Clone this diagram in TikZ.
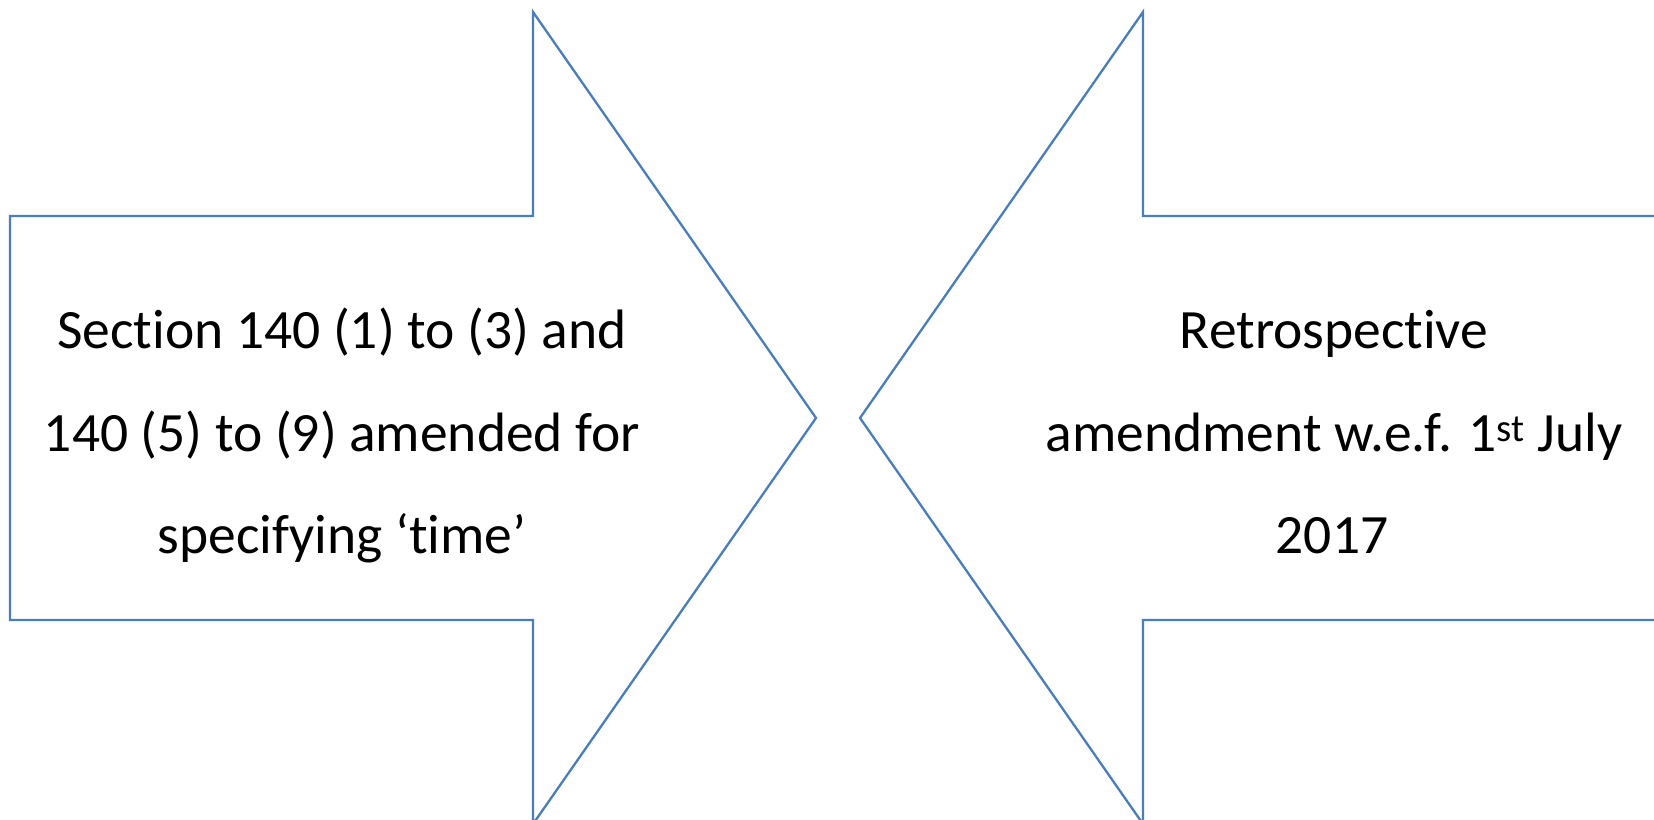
\documentclass[tikz,border=0pt]{standalone}
\usepackage{fontspec}
\setmainfont{Carlito}[Ligatures={NoCommon},RawFeature={-liga;-clig;-calt;-dlig}]
\definecolor{outl}{HTML}{4A7EBB}
\newcommand{\nl}{t\kern0pt i}
\begin{document}
\begin{tikzpicture}[x=1pt,y=-1pt,
  arrowshape/.style={draw=outl,line width=2.3pt,line join=miter,fill=white},
  lbl/.style={anchor=base,inner sep=0pt,font=\fontsize{55.5}{64}\selectfont}]
\useasboundingbox (0,0) rectangle (1654,819);
\begin{scope}
\clip (0,0) rectangle (1654,819);
\draw[arrowshape] (10,216) -- (533,216) -- (533,12) -- (816,418) -- (533,824) -- (533,620) -- (10,620) -- cycle;
\draw[arrowshape] (1670,216) -- (1143,216) -- (1143,12) -- (860,418) -- (1143,824) -- (1143,620) -- (1670,620) -- cycle;
\end{scope}
\node[lbl] (l1) at (342,348) {Sec\nl on 140 (1) to (3) and};
\node[lbl] (l2) at (342,451) {140 (5) to (9) amended for};
\node[lbl] (l3) at (342,553) {specifying ‘\nl me’};
\node[lbl] (r1) at (1334,348) {Retrospec\nl ve};
\node[lbl] (r2) at (1334,451) {amendment w.e.f. 1\textsuperscript{st} July};
\node[lbl] (r3) at (1332,553) {2017};
\end{tikzpicture}
\end{document}
